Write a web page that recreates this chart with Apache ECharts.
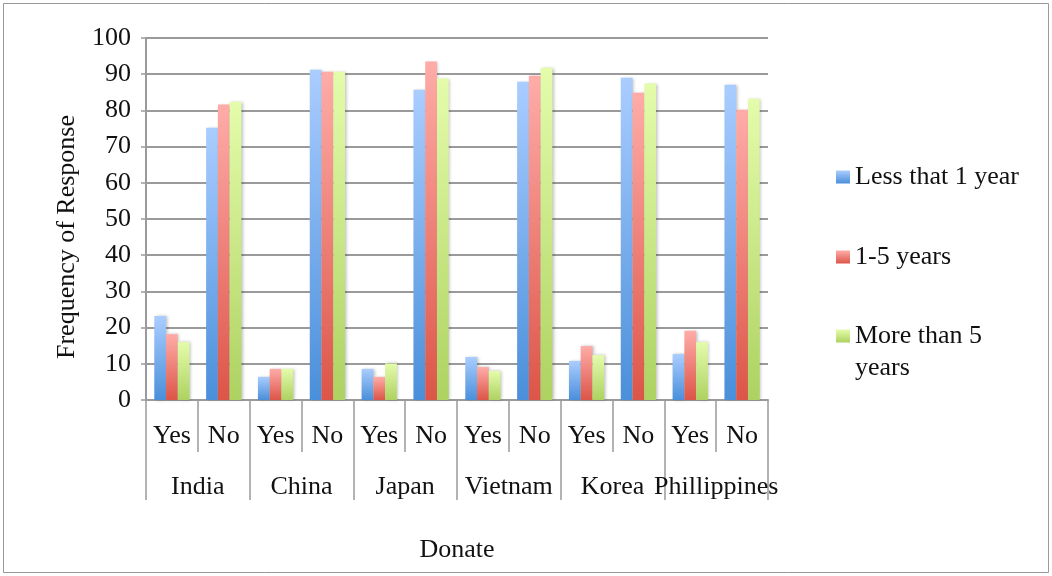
<!DOCTYPE html>
<html><head><meta charset="utf-8">
<script src="https://cdn.jsdelivr.net/npm/echarts@6/dist/echarts.min.js"></script>
<style>html,body{margin:0;padding:0;background:#fff}#c{width:1052px;height:576px}</style>
</head><body><div id="c"></div>
<script>
const answers = ['Yes','No','Yes','No','Yes','No','Yes','No','Yes','No','Yes','No'];
const countries = ['India','China','Japan','Vietnam','Korea','Phillippines'];
const yTicks = [0,10,20,30,40,50,60,70,80,90,100];
const seriesNames = ['Less that 1 year','1-5 years','More than 5 years'];
const lessThan1 = [23.2,75.2,6.4,91.2,8.6,85.7,11.9,87.9,10.8,89.0,12.7,87.1];
const oneToFive = [18.2,81.6,8.6,90.7,6.4,93.5,9.1,89.6,14.9,84.9,19.1,80.2];
const moreThan5 = [16.0,82.4,8.6,90.7,10.1,88.8,8.0,91.8,12.4,87.4,16.0,83.2];

const FONT = 'Liberation Serif';
const FS = 26;
const stops = [['#aacdff','#4a8fda'],['#ffaca8','#dc5548'],['#e4fcab','#add261']];
const grad = (a,b) => new echarts.graphic.LinearGradient(0,0,0,1,[{offset:0,color:a},{offset:1,color:b}]);
const colors = stops.map(s => grad(s[0], s[1]));
const gridColor = '#9a9a9a';

const chart = echarts.init(document.getElementById('c'));
const mkLegend = (i, top, icon, h, col) => ({
  orient:'vertical', left: 831, top: top, itemWidth: 14, itemHeight: h || 13, icon: icon || 'rect',
  symbolKeepAspect: false,
  data:[{name: seriesNames[i], itemStyle:{color: col || colors[i]}}],
  textStyle:{fontFamily:FONT, fontSize:FS, color:'#111', lineHeight:32},
  formatter: n => n === 'More than 5 years' ? 'More than 5\nyears' : n
});
const topSquareIcon = 'path://M0,0L14,0L14,13L0,13Z M0,45L0.001,45L0,45Z';
const thirdIconColor = new echarts.graphic.LinearGradient(0,0,0,1,[
  {offset:0,color:stops[2][0]},{offset:0.29,color:stops[2][1]},{offset:1,color:stops[2][1]}]);
chart.setOption({
  animation:false,
  backgroundColor:'#fff',
  textStyle:{fontFamily:FONT},
  graphic:[{type:'rect', shape:{x:3.5,y:3.5,width:1045,height:569}, style:{fill:'none', stroke:'#999', lineWidth:1}, silent:true}],
  legend:[
    mkLegend(0, 156),
    mkLegend(1, 236),
    mkLegend(2, 315, topSquareIcon, 45, thirdIconColor)
  ],
  grid:{left:146, right:284, top:38, bottom:176, containLabel:false},
  xAxis:[
    {type:'category', data: answers, position:'bottom',
      axisLine:{show:true, lineStyle:{color:gridColor, width:2}},
      axisTick:{show:true, interval:0, length:52, lineStyle:{color:gridColor, width:1.5}},
      axisLabel:{interval:0, margin:23.5, fontFamily:FONT, fontSize:FS, color:'#111'},
      splitLine:{show:false}},
    {type:'category', data: countries, position:'bottom',
      axisLine:{show:false},
      axisTick:{show:true, interval:0, length:100, lineStyle:{color:gridColor, width:1.5}},
      axisLabel:{interval:0, margin:74.5, fontFamily:FONT, fontSize:FS, color:'#111'},
      name:'Donate', nameLocation:'middle', nameGap:137.5,
      nameTextStyle:{fontFamily:FONT, fontSize:FS, color:'#111'},
      splitLine:{show:false}}
  ],
  yAxis:{type:'value', min: yTicks[0], max: yTicks[yTicks.length-1], interval:10,
    name:'Frequency of Response', nameLocation:'middle', nameGap:66, nameRotate:90,
    nameTextStyle:{fontFamily:FONT, fontSize:FS, color:'#111', padding:[0,36,0,0]},
    axisLine:{show:true, lineStyle:{color:gridColor, width:2}},
    axisTick:{show:true, length:5, lineStyle:{color:gridColor, width:1.5}},
    axisLabel:{margin:15, fontFamily:FONT, fontSize:FS, color:'#111'},
    splitLine:{show:true, lineStyle:{color:gridColor, width:1.8}}},
  series:[lessThan1, oneToFive, moreThan5].map((d,i)=>({
    name: seriesNames[i], type:'bar', data:d, xAxisIndex:0,
    barGap:'0%', barCategoryGap:'32%',
    itemStyle:{color: colors[i], shadowColor:'rgba(0,0,0,0.25)', shadowBlur:3, shadowOffsetX:1.5, shadowOffsetY:0}
  }))
});
</script></body></html>
